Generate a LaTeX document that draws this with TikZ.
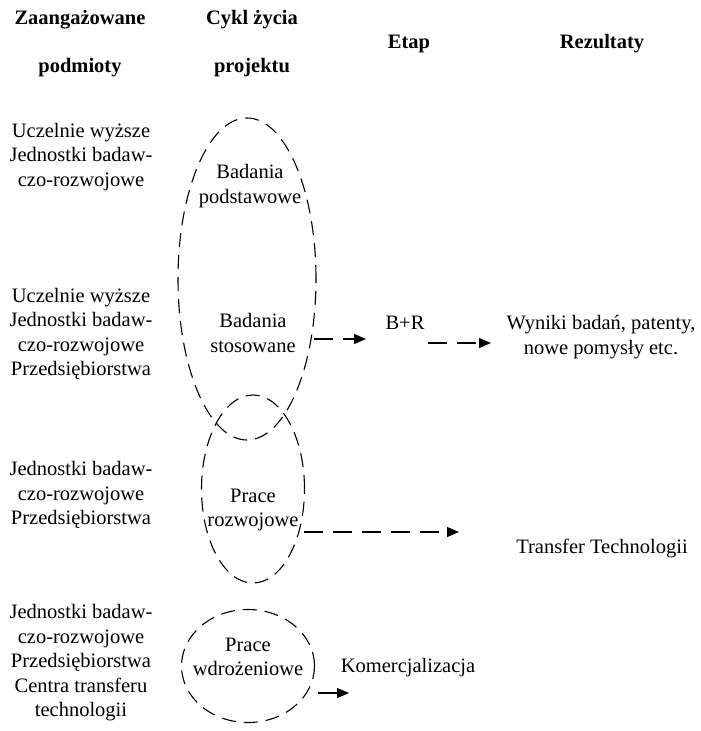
\documentclass[tikz,border=0pt]{standalone}
\usepackage{fontspec}
\setmainfont{Liberation Serif}
\usetikzlibrary{shapes.geometric,arrows.meta}
\begin{document}
\begin{tikzpicture}[x=1pt,y=-1pt,
  txt/.style={align=center,inner sep=0pt,font=\fontsize{20.5}{24.5}\selectfont},
  hdr/.style={align=center,inner sep=0pt,font=\fontsize{20.5}{24.5}\selectfont\bfseries},
  oval/.style={ellipse,draw,line width=1.1pt,dash pattern=on 14pt off 8pt,inner sep=0pt},
  darrow/.style={line width=1.1pt,dash pattern=on 19pt off 10pt,-{Triangle[length=12pt,width=10pt]}},
  sarrow/.style={line width=1.1pt,-{Triangle[length=12pt,width=10pt]}}]
\useasboundingbox (0,0) rectangle (701,731);
% headers
\node[hdr] (h1a) at (80,20) {Zaangażowane};
\node[hdr] (h1b) at (80,68) {podmioty};
\node[hdr] (h2a) at (252,20) {Cykl życia};
\node[hdr] (h2b) at (252,68) {projektu};
\node[hdr] (h3) at (409,44) {Etap};
\node[hdr] (h4) at (602,44) {Rezultaty};
% left column
\node[txt] (l1) at (81,157) {Uczelnie wyższe\\Jednostki badaw-\\czo-rozwojowe};
\node[txt] (l2) at (81,334) {Uczelnie wyższe\\Jednostki badaw-\\czo-rozwojowe\\Przedsiębiorstwa};
\node[txt] (l3) at (81,495) {Jednostki badaw-\\czo-rozwojowe\\Przedsiębiorstwa};
\node[txt] (l4) at (81,663) {Jednostki badaw-\\czo-rozwojowe\\Przedsiębiorstwa\\Centra transferu\\technologii};
% ellipses
\node[oval,minimum width=138pt,minimum height=322pt] (e1) at (247,279) {};
\node[oval,minimum width=103pt,minimum height=188pt] (e2) at (253,489) {};
\node[oval,minimum width=133pt,minimum height=113pt] (e3) at (248,666) {};
% ellipse texts
\node[txt] (t1) at (250,186) {Badania\\podstawowe};
\node[txt] (t2) at (253,333) {Badania\\stosowane};
\node[txt] (t3) at (253,510) {Prace\\rozwojowe};
\node[txt] (t4) at (248,657) {Prace\\wdrożeniowe};
% stage / results
\node[txt] (br) at (405,323) {B+R};
\node[txt] (res) at (601,337) {Wyniki badań, patenty,\\nowe pomysły etc.};
\node[txt] (tt) at (602,548) {Transfer Technologii};
\node[txt] (kom) at (408,668) {Komercjalizacja};
% arrow coordinates
\coordinate (a1s) at (314,339);
\coordinate (a1e) at (366,339);
\coordinate (a2s) at (428,343);
\coordinate (a2e) at (491,343);
\coordinate (a3s) at (304,532);
\coordinate (a3e) at (459,532);
\coordinate (a4s) at (318,693);
\coordinate (a4e) at (349,693);
\draw[darrow] (a1s) -- (a1e);
\draw[darrow] (a2s) -- (a2e);
\draw[darrow] (a3s) -- (a3e);
\draw[sarrow] (a4s) -- (a4e);
\end{tikzpicture}
\end{document}
